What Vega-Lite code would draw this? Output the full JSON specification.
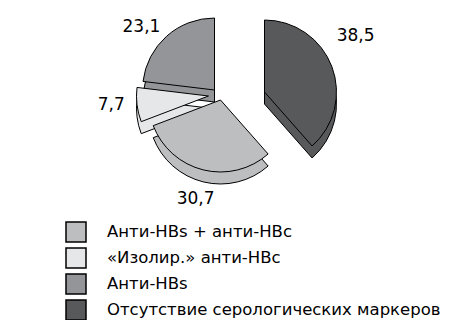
{
  "$schema": "https://vega.github.io/schema/vega-lite/v6.json",
  "width": 449,
  "height": 188,
  "padding": {"top": 0, "left": 0, "right": 0, "bottom": 132},
  "autosize": {"type": "none"},
  "background": "white",
  "config": {
    "view": {"stroke": null},
    "font": "DejaVu Sans",
    "locale": {"number": {"decimal": ",", "thousands": " ", "grouping": [3], "currency": ["", ""]}}
  },
  "data": {
    "values": [
      {"group": "Отсутствие серологических маркеров", "value": 38.5},
      {"group": "Анти-HBs + анти-HBc", "value": 30.7},
      {"group": "«Изолир.» анти-HBc", "value": 7.7},
      {"group": "Анти-HBs", "value": 23.1}
    ]
  },
  "transform": [
    {"window": [{"op": "row_number", "as": "i"}]},
    {"stack": "value", "groupby": [], "sort": [{"field": "i", "order": "ascending"}], "as": ["v0", "v1"]}
  ],
  "layer": [
    {
      "encoding": {
        "theta": {"field": "v0", "type": "quantitative", "scale": {"domain": [0, 100]}},
        "theta2": {"field": "v1"},
        "color": {
          "field": "group",
          "type": "nominal",
          "scale": {
            "domain": ["Анти-HBs + анти-HBc", "«Изолир.» анти-HBc", "Анти-HBs", "Отсутствие серологических маркеров"],
            "range": ["#bcbec0", "#e6e7e8", "#939598", "#58595b"]
          },
          "legend": {
            "orient": "none",
            "legendX": 65,
            "legendY": 221,
            "padding": 0,
            "title": null,
            "symbolType": "square",
            "symbolSize": 400,
            "symbolStrokeColor": "black",
            "symbolStrokeWidth": 1.5,
            "symbolOpacity": 1,
            "labelFontSize": 16.5,
            "labelFont": "DejaVu Sans",
            "labelColor": "black",
            "labelOffset": 20,
            "rowPadding": 0,
            "labelLimit": 0
          }
        }
      },
      "layer": [
        {"transform": [{"filter": "datum.i == 4"}], "mark": {"type": "arc", "outerRadius": 72, "xOffset": -10, "yOffset": 8, "stroke": "black", "strokeWidth": 1, "opacity": 1}},
        {"transform": [{"filter": "datum.i == 4"}], "mark": {"type": "arc", "outerRadius": 72, "xOffset": -10, "yOffset": -4, "stroke": "black", "strokeWidth": 1, "opacity": 1}},
        {"transform": [{"filter": "datum.i == 1"}], "mark": {"type": "arc", "outerRadius": 72, "xOffset": 40, "yOffset": 10, "stroke": "black", "strokeWidth": 1, "opacity": 1}},
        {"transform": [{"filter": "datum.i == 1"}], "mark": {"type": "arc", "outerRadius": 72, "xOffset": 40, "yOffset": -2, "stroke": "black", "strokeWidth": 1, "opacity": 1}},
        {"transform": [{"filter": "datum.i == 3"}], "mark": {"type": "arc", "outerRadius": 72, "xOffset": -16, "yOffset": 14, "stroke": "black", "strokeWidth": 1, "opacity": 1}},
        {"transform": [{"filter": "datum.i == 3"}], "mark": {"type": "arc", "outerRadius": 72, "xOffset": -16, "yOffset": 2, "stroke": "black", "strokeWidth": 1, "opacity": 1}},
        {"transform": [{"filter": "datum.i == 2"}], "mark": {"type": "arc", "outerRadius": 72, "xOffset": -4, "yOffset": 18, "stroke": "black", "strokeWidth": 1, "opacity": 1}},
        {"transform": [{"filter": "datum.i == 2"}], "mark": {"type": "arc", "outerRadius": 72, "xOffset": -4, "yOffset": 6, "stroke": "black", "strokeWidth": 1, "opacity": 1}}
      ]
    },
    {
      "mark": {"type": "text", "radius": 92, "xOffset": 45, "yOffset": -25, "fontSize": 17, "font": "DejaVu Sans", "color": "black"},
      "encoding": {
        "theta": {"field": "value", "type": "quantitative", "stack": true},
        "order": {"field": "i", "type": "quantitative"},
        "text": {"condition": {"test": "datum.i == 1", "field": "value", "type": "quantitative", "format": ".1f"}, "value": ""}
      }
    },
    {
      "mark": {"type": "text", "radius": 104, "xOffset": -4, "yOffset": 4, "fontSize": 17, "font": "DejaVu Sans", "color": "black"},
      "encoding": {
        "theta": {"field": "value", "type": "quantitative", "stack": true},
        "order": {"field": "i", "type": "quantitative"},
        "text": {"condition": {"test": "datum.i == 2", "field": "value", "type": "quantitative", "format": ".1f"}, "value": ""}
      }
    },
    {
      "mark": {"type": "text", "radius": 94, "xOffset": -20, "yOffset": 0, "fontSize": 17, "font": "DejaVu Sans", "color": "black"},
      "encoding": {
        "theta": {"field": "value", "type": "quantitative", "stack": true},
        "order": {"field": "i", "type": "quantitative"},
        "text": {"condition": {"test": "datum.i == 3", "field": "value", "type": "quantitative", "format": ".1f"}, "value": ""}
      }
    },
    {
      "mark": {"type": "text", "radius": 92, "xOffset": -22, "yOffset": 2, "fontSize": 17, "font": "DejaVu Sans", "color": "black"},
      "encoding": {
        "theta": {"field": "value", "type": "quantitative", "stack": true},
        "order": {"field": "i", "type": "quantitative"},
        "text": {"condition": {"test": "datum.i == 4", "field": "value", "type": "quantitative", "format": ".1f"}, "value": ""}
      }
    }
  ]
}
